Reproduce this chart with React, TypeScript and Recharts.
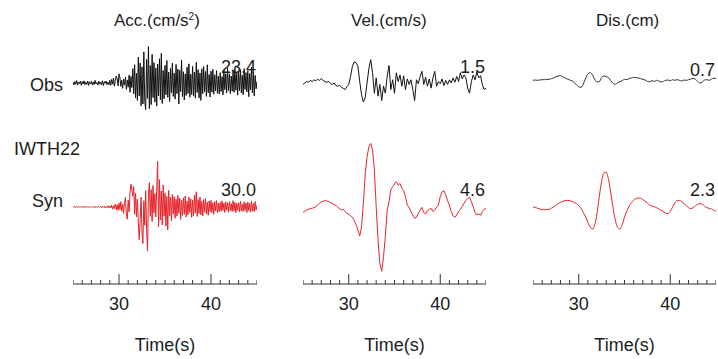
import React from 'react';
import { LineChart, Line, XAxis, YAxis } from 'recharts';

// sampling of each trace (start time and step, seconds)
const START = 25;
const ACC_STEP = 0.1;
const VEL_STEP = 0.2;
const DIS_STEP = 0.25;

const xTicks = [25, 26, 27, 28, 29, 30, 31, 32, 33, 34, 35, 36, 37, 38, 39, 40, 41, 42, 43, 44, 45];
const labelledTicks = [30, 40];

const titles = ['Acc.(cm/s', 'Vel.(cm/s)', 'Dis.(cm)'];
const obsPeaks = ['23.4', '1.5', '0.7'];
const synPeaks = ['30.0', '4.6', '2.3'];
const stationName = 'IWTH22';

// acceleration, cm/s^2
const accObs = [
  0.5, -1.2, 1.0, -0.8, 1.6, -1.4, 0.6, -0.3, 1.2, -1.5,
  0.9, -0.6, 1.4, -1.1, 0.4, -0.9, 1.3, -1.6, 0.8, -0.4,
  1.1, -1.3, 0.7, -1.0, 1.7, -0.6, 0.3, -1.4, 1.2, -0.8,
  0.6, -1.1, 1.5, -1.7, 0.9, -0.2, 1.3, -1.0, 0.5, -1.2,
  1.8, -1.5, 2.4, -0.8, 3.2, -2.1, 1.6, 4.5, 2.8, -1.9,
  6.0, 3.5, -2.2, 1.8, -3.5, 2.6, -1.4, 3.8, -4.2, 2.0,
  -2.8, 5.2, -6.1, 4.3, -3.0, 9.5, -7.2, 12.0, -9.8, 6.4,
  -11.5, 17.0, -8.5, 13.2, -15.0, 10.6, -13.8, 20.5, -12.0, -17.5,
  15.5, -10.2, 24.0, -16.8, 11.5, -14.2, 18.8, -9.6, 13.4, -12.6,
  9.8, -15.2, 12.5, -8.4, 16.0, -11.0, 19.5, -13.5, 8.2, -10.4,
  11.6, -7.8, 14.8, -9.5, 7.2, -12.2, 9.6, -6.4, 13.0, -8.8,
  6.5, -10.6, 12.2, -7.0, 9.2, -13.8, 8.4, -5.6, 15.2, -9.0,
  7.4, -11.2, 6.0, -8.2, 10.4, -6.8, 12.6, -9.4, 5.8, -7.6,
  11.0, -8.6, 7.2, -10.0, 13.6, -6.2, 8.8, -9.8, 6.6, -11.4,
  9.4, -7.0, 10.8, -5.8, 7.6, -8.8, 12.0, -6.4, 5.6, -9.2,
  7.8, -6.0, 9.0, -7.4, 5.4, -5.2, 8.2, -6.8, 4.6, -7.2,
  6.8, -5.6, 4.2, -7.8, 8.6, -4.4, 6.0, -6.6, 9.8, -5.0,
  5.8, -7.0, 4.6, -5.4, 7.6, -6.2, 10.2, -4.8, 6.4, -8.0,
  7.2, -5.0, 8.8, -6.6, 5.2, -7.8, 9.4, -4.2, 6.8, -5.8,
  8.0, -9.0, 6.2, -4.6, 10.4, -6.4, 7.0, -8.6, 5.0, -3.8,
  1.0,
];

const accSyn = [
  0.2, -0.1, 0.3, -0.2, 0.1, -0.3, 0.2, 0.0, -0.2, 0.3,
  -0.1, 0.2, -0.3, 0.1, 0.2, -0.2, 0.3, -0.1, 0.0, 0.2,
  -0.3, 0.1, 0.3, -0.2, 0.2, -0.4, 0.3, -0.1, 0.4, -0.3,
  0.2, -0.5, 0.6, -0.2, 0.4, -0.6, 0.3, -0.4, 0.7, -0.5,
  0.8, -0.6, 1.2, -1.5, 0.9, -1.1, 2.0, -1.8, 1.4, -2.2,
  2.6, -1.6, 3.5, -2.8, 1.8, -4.2, 3.0, 6.2, -5.0, -8.0,
  4.5, -3.2, 9.8, 15.0, 11.2, 7.0, 13.5, -4.8, 9.0, -6.5,
  5.2, -10.5, -21.5, -8.0, 6.5, -17.0, -24.0, 4.2, -12.0, 10.8,
  -14.0, -29.0, 8.5, 16.0, -6.2, 11.5, -9.5, 14.2, -4.0, 8.8,
  -6.5, 12.0, 30.0, -13.0, 18.0, -8.5, 10.5, -11.8, 14.5, -6.0,
  9.2, -12.5, 7.0, -15.0, 11.0, -5.8, 6.4, -9.0, 8.2, -4.6,
  6.8, -7.4, 5.2, -6.0, 7.6, -4.2, 5.8, -8.2, 4.4, -5.6,
  6.0, -4.8, 7.2, -6.6, 3.8, -5.0, 6.4, -3.6, 5.4, -6.8,
  4.6, -5.8, 7.8, -4.0, 10.0, -6.2, 5.0, -4.4, 6.6, -5.2,
  3.8, -6.0, 4.8, -3.4, 5.6, -4.6, 3.2, -5.4, 4.0, -3.0,
  4.4, -3.6, 2.8, -4.8, 3.6, -2.6, 4.2, -3.8, 2.4, -3.2,
  3.0, -2.8, 4.0, -2.2, 2.6, -3.6, 3.4, -2.0, 2.8, -3.4,
  3.6, -2.4, 2.2, -3.0, 4.2, -2.6, 3.0, -3.8, 2.4, -2.2,
  2.8, -3.2, 3.8, -2.6, 2.0, -3.0, 3.4, -2.2, 2.6, -3.6,
  3.2, -2.4, 2.6, -3.4, 4.0, -2.8, 2.2, -3.0, 3.6, -2.0,
  1.2,
];

// velocity, cm/s
const velObs = [
  -0.1, 0.0, 0.1, 0.05, 0.18, 0.1, 0.22, 0.15, 0.26, 0.18,
  0.3, 0.18, 0.1, 0.05, 0.1, -0.05, -0.1, 0.0, -0.18, -0.22,
  -0.15, -0.3, -0.36, -0.45, -0.25, -0.1, 0.45, 1.15, 1.45, 1.38,
  1.15, 0.1, -0.8, -1.3, -1.0, 0.0, 1.0, 1.6, 0.7, -0.7,
  0.35, -0.9, -0.1, -1.2, -0.22, -0.7, 0.45, 1.2, -0.45, 0.22,
  -0.7, 0.7, 0.1, 0.55, -0.22, 0.5, -0.45, 0.28, -0.1, 0.22,
  -0.45, -1.2, 0.22, -0.05, 0.45, 0.8, -0.1, 0.4, -0.22, 0.28,
  -0.35, 0.35, 0.8, -0.22, 0.1, -0.05, 0.28, -0.18, 0.18, -0.1,
  0.22, 0.0, 0.35, 0.05, 0.45, 0.1, 0.7, 0.28, 0.55, 0.35,
  -0.35, -0.7, 0.1, 0.55, 0.22, 0.75, 0.35, 0.5, -0.1, -0.45,
  -0.35,
];

const velSyn = [
  -0.14, -0.1, 0.0, 0.05, 0.1, 0.12, 0.16, 0.23, 0.34, 0.46,
  0.55, 0.6, 0.64, 0.62, 0.57, 0.5, 0.46, 0.36, 0.32, 0.18,
  0.1, 0.0, 0.05, -0.11, -0.23, -0.27, -0.41, -0.5, -0.73, -1.0,
  -1.37, -1.78, -1.14, 0.46, 2.5, 3.65, 4.33, 4.56, 4.1, 2.74,
  0.23, -2.05, -3.65, -4.2, -3.2, -1.8, 0.0, 0.57, 1.37, 1.6,
  1.78, 1.94, 1.7, 1.82, 1.48, 1.32, 0.91, 0.34, 0.18, -0.11,
  -0.34, -0.57, -0.5, -0.23, 0.0, 0.18, -0.18, -0.27, -0.05, 0.05,
  0.11, -0.11, 0.0, 0.18, 0.34, 0.91, 1.25, 1.32, 1.03, 0.64,
  0.34, -0.11, -0.41, -0.5, -0.34, -0.11, 0.05, 0.23, 0.46, 0.64,
  0.8, 0.87, 0.57, 0.23, -0.18, -0.34, -0.27, -0.36, -0.11, 0.05,
  0.09,
];

// displacement, cm
const disObs = [
  -0.02, 0.0, -0.02, 0.0, 0.02, 0.02, 0.04, 0.04,
  0.09, 0.13, 0.21, 0.26, 0.28, 0.21, 0.13, 0.06,
  0.0, -0.04, -0.17, -0.3, -0.43, -0.47, -0.26, 0.11,
  0.39, 0.47, 0.32, 0.04, -0.13, -0.11, 0.17, 0.26,
  0.21, 0.15, -0.04, -0.21, -0.28, -0.17, -0.11, -0.04,
  0.04, 0.02, 0.09, 0.13, 0.17, 0.15, 0.13, 0.09,
  0.04, 0.0, -0.09, -0.11, -0.04, -0.09, -0.02, -0.06,
  -0.13, -0.09, -0.02, 0.0, -0.04, 0.02, -0.02, 0.02,
  -0.02, -0.06, 0.0, -0.02, 0.02, 0.06, 0.11, 0.04,
  -0.09, -0.19, -0.13, 0.0, 0.02, -0.02, 0.06, 0.11,
  0.09,
];

const disSyn = [
  0.06, 0.04, -0.02, -0.06, -0.11, -0.11, -0.11, -0.09,
  -0.02, 0.06, 0.17, 0.28, 0.36, 0.43, 0.47, 0.49,
  0.47, 0.43, 0.36, 0.28, 0.15, -0.02, -0.28, -0.58,
  -0.92, -1.22, -1.35, -1.07, -0.32, 0.75, 1.71, 2.25,
  2.29, 1.82, 0.96, 0.0, -0.79, -1.24, -1.35, -1.07,
  -0.58, -0.21, 0.11, 0.32, 0.49, 0.6, 0.64, 0.62,
  0.54, 0.43, 0.32, 0.19, 0.13, 0.09, 0.02, -0.06,
  -0.15, -0.24, -0.32, -0.36, -0.21, 0.06, 0.32, 0.47,
  0.49, 0.41, 0.28, 0.15, 0.02, -0.04, 0.02, 0.15,
  0.24, 0.28, 0.24, 0.11, 0.02, -0.02, -0.06, -0.15,
  -0.19,
];

const toSeries = (values: number[], step: number) =>
  values.map((v, i) => ({ t: +(START + i * step).toFixed(2), v }));

const FONT = '"Liberation Sans", Arial, Helvetica, sans-serif';
const TEXT = '#1c1c1c';
const RED = '#e5232a';
const PLOT_TOP = 30;
const BASELINE = 284;
const AXIS_H = 40;

const columns = [
  { left: 73, width: 184, obs: accObs, syn: accSyn, step: ACC_STEP, pxPerUnit: 1.52, obsZero: 83, synZero: 207, curve: 'linear' },
  { left: 303, width: 183, obs: velObs, syn: velSyn, step: VEL_STEP, pxPerUnit: 14.6, obsZero: 83, synZero: 210, curve: 'linear' },
  { left: 533, width: 183, obs: disObs, syn: disSyn, step: DIS_STEP, pxPerUnit: 15.65, obsZero: 80, synZero: 208, curve: 'monotone' },
];

// y domain so that zero sits at a given page row
const domainFor = (zero: number, pxPerUnit: number): [number, number] => [
  -(BASELINE - zero) / pxPerUnit,
  (zero - PLOT_TOP) / pxPerUnit,
];

const TimeTick = (props: any) => {
  const { x, y, payload } = props;
  const major = labelledTicks.includes(payload.value);
  return (
    <g>
      <line x1={x} x2={x} y1={y} y2={y - (major ? 10 : 4)} stroke="#333" strokeWidth={1} />
      {major && (
        <text x={x} y={y + 26} textAnchor="middle" fontSize={18} fontFamily={FONT} fill={TEXT}>
          {payload.value}
        </text>
      )}
    </g>
  );
};

const label = (text: React.ReactNode, style: React.CSSProperties, key?: string) => (
  <div
    key={key}
    style={{
      position: 'absolute',
      fontFamily: FONT,
      fontSize: 18,
      color: TEXT,
      lineHeight: '20px',
      whiteSpace: 'nowrap',
      transform: 'translateY(-50%)',
      ...style,
    }}
  >
    {text}
  </div>
);

const titleLeft = [114, 351, 596];

export default function App() {
  return (
    <div style={{ position: 'absolute', left: 0, top: 0, width: 718, height: 359, background: '#fff', overflow: 'hidden' }}>
      {titles.map((t, i) =>
        label(
          i === 0 ? (
            <span>
              {t}
              <sup style={{ fontSize: 10, verticalAlign: 'top', position: 'relative', top: -4 }}>2</sup>)
            </span>
          ) : (
            t
          ),
          { left: titleLeft[i], top: 21, fontSize: 17 },
          'title' + i
        )
      )}

      {label('Obs', { left: 0, width: 63, textAlign: 'right', top: 85 })}
      {label(stationName, { left: 14, top: 149 })}
      {label('Syn', { left: 0, width: 63, textAlign: 'right', top: 201 })}

      {columns.map((col, i) => (
        <div key={i} style={{ position: 'absolute', left: col.left, top: PLOT_TOP }}>
          <LineChart
            width={col.width}
            height={BASELINE - PLOT_TOP + AXIS_H}
            margin={{ top: 0, right: 0, bottom: 0, left: 0 }}
          >
            <XAxis
              type="number"
              dataKey="t"
              domain={[START, 45]}
              ticks={xTicks}
              interval={0}
              allowDataOverflow
              height={AXIS_H}
              tickSize={0}
              tickMargin={0}
              tickLine={false}
              axisLine={{ stroke: '#333', strokeWidth: 1 }}
              tick={(p: any) => <TimeTick {...p} />}
            />
            <YAxis yAxisId="obs" type="number" hide allowDataOverflow domain={domainFor(col.obsZero, col.pxPerUnit)} />
            <YAxis yAxisId="syn" type="number" hide allowDataOverflow domain={domainFor(col.synZero, col.pxPerUnit)} />
            <Line
              yAxisId="obs"
              data={toSeries(col.obs, col.step)}
              dataKey="v"
              type={col.curve as any}
              stroke={i === 2 ? '#333' : '#111'}
              strokeWidth={1}
              dot={false}
              isAnimationActive={false}
            />
            <Line
              yAxisId="syn"
              data={toSeries(col.syn, col.step)}
              dataKey="v"
              type={col.curve as any}
              stroke={RED}
              strokeWidth={1}
              dot={false}
              isAnimationActive={false}
            />
          </LineChart>
        </div>
      ))}

      {obsPeaks.map((p, i) =>
        label(p, { left: columns[i].left, width: columns[i].width - 1, textAlign: 'right', top: i === 2 ? 70 : 67 }, 'op' + i)
      )}
      {synPeaks.map((p, i) =>
        label(p, { left: columns[i].left, width: columns[i].width - 1, textAlign: 'right', top: 190 }, 'sp' + i)
      )}

      {columns.map((col, i) =>
        label('Time(s)', { left: col.left, width: col.width, textAlign: 'center', top: 345 }, 'time' + i)
      )}
    </div>
  );
}
